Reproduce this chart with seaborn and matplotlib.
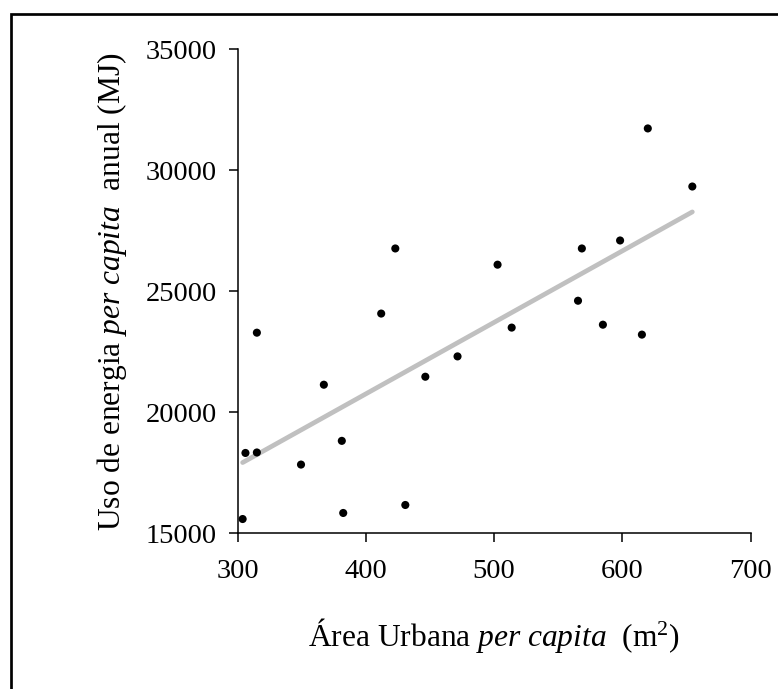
import numpy as np
import pandas as pd
import matplotlib
matplotlib.use("Agg")
import matplotlib.pyplot as plt
from matplotlib.patches import Rectangle
import seaborn as sns

# Data
area_urbana = [304.0, 306.2, 315.1, 315.1, 349.5, 367.3, 381.3, 382.4, 412.0, 423.0,
               430.8, 446.4, 471.5, 502.7, 513.7, 565.4, 568.4, 584.8, 598.2, 615.2,
               619.8, 654.5]
uso_energia = [15590, 18320, 18340, 23290, 17840, 21140, 18820, 15840, 24080, 26770,
               16170, 21470, 22310, 26100, 23500, 24610, 26770, 23620, 27100, 23210,
               31730, 29330]
x_ticks = [300, 400, 500, 600, 700]
y_ticks = [15000, 20000, 25000, 30000, 35000]
x_label = r"Área Urbana $\mathit{per\ capita}$  (m$^2$)"
y_label = r"Uso de energia $\mathit{per\ capita}$  anual (MJ)"

sns.set_theme(style="ticks")
plt.rcParams["font.family"] = ["Liberation Serif", "DejaVu Serif"]
plt.rcParams["mathtext.fontset"] = "custom"
plt.rcParams["mathtext.rm"] = "Liberation Serif"
plt.rcParams["mathtext.it"] = "Liberation Serif:italic"
plt.rcParams["mathtext.bf"] = "Liberation Serif:bold"

W, H = 778, 689
fig = plt.figure(figsize=(W / 100, H / 100), dpi=100)
fig.patch.set_facecolor("white")
left, right, top, bottom = 237.5, 750.7, 49.3, 533.3
ax = fig.add_axes([left / W, 1 - bottom / H, (right - left) / W, (bottom - top) / H])
ax.set_facecolor("white")

df = pd.DataFrame({"area": area_urbana, "energia": uso_energia})
sns.regplot(data=df, x="area", y="energia", ci=None, scatter=False, ax=ax,
            line_kws=dict(color="#c0c0c0", lw=3.4, solid_capstyle="round", zorder=2))
sns.scatterplot(data=df, x="area", y="energia", ax=ax, color="black", s=34,
                edgecolor="none", zorder=3, legend=False)

ax.set_xlim(300, 700)
ax.set_ylim(15000, 35000)
ax.set_xticks(x_ticks)
ax.set_yticks(y_ticks)
ax.set_xticklabels([str(t) for t in x_ticks])
ax.set_yticklabels([str(t) for t in y_ticks])
sns.despine(ax=ax)
for s in ["left", "bottom"]:
    ax.spines[s].set_linewidth(1.1)
    ax.spines[s].set_color("black")
ax.tick_params(direction="out", length=6.5, width=1.1, color="black",
               labelsize=20.5, labelcolor="black")
ax.tick_params(axis="x", pad=12)
ax.tick_params(axis="y", pad=8.5)
ax.set_xlabel(x_label, fontsize=22.7, color="black", labelpad=23)
ax.set_ylabel(y_label, fontsize=22.7, color="black", labelpad=12)
ax.grid(False)

# Outer frame (only left and top edges visible in the reference)
fig.add_artist(Rectangle((11.3 / W, -0.1), 1.2, (H - 14.3) / H + 0.1,
                         transform=fig.transFigure, fill=False,
                         edgecolor="black", lw=1.95, clip_on=False))

fig.savefig("out.png", dpi=100)
